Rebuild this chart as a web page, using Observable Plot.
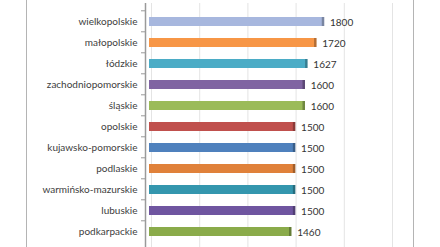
<!DOCTYPE html>
<html><head><meta charset="utf-8">
<script src="https://cdn.jsdelivr.net/npm/d3@7"></script>
<script src="https://cdn.jsdelivr.net/npm/@observablehq/plot@0.6"></script>
<style>
body{margin:0;background:#fff;overflow:hidden;}
#wrap{position:relative;width:440px;height:247px;overflow:hidden;}
#frame{position:absolute;left:26px;top:0;width:386px;height:247px;border-left:1.5px solid #b4b4b4;border-right:1.5px solid #b4b4b4;}
#chart{position:absolute;left:0;top:0;}
</style></head>
<body><div id="wrap"><div id="frame"></div><div id="chart"></div></div>
<script>
const regions = ["wielkopolskie","małopolskie","łódzkie","zachodniopomorskie","śląskie","opolskie","kujawsko-pomorskie","podlaskie","warmińsko-mazurskie","lubuskie","podkarpackie"];
const values = [1800,1720,1627,1600,1600,1500,1500,1500,1500,1500,1460];
const colors = ["#a7b7de","#f79646","#4bacc6","#8064a2","#9bbb59","#c0504d","#4f81bd","#e0813a","#3496ae","#6f55a0","#8aab4a"];
const gridTicks = [0,500,1000,1500,2000,2500];

const data = regions.map((r,i)=>({name:r, value:values[i], color:colors[i], edge:d3.color(colors[i]).darker(0.9).formatHex()}));

const chart = Plot.plot({
  width: 440, height: 250,
  marginLeft: 151, marginRight: 48, marginTop: 3, marginBottom: 0,
  style: {fontFamily: "Lato, sans-serif", fontSize: "10px", color: "#333"},
  x: {domain: [0, 2500], axis: null},
  y: {domain: regions, padding: 0.55, axis: null, label: null},
  marks: [
    Plot.ruleX(gridTicks, {stroke: "#e4e4e4", strokeWidth: 1}),
    Plot.axisY({tickSize: 0, tickPadding: 14, label: null, fontSize: 10, fill: "#404040"}),
    Plot.axisY({anchor: "left", tickSize: 4, tickFormat: () => "", label: null, dx: -6, dy: -11.2, stroke: "#999"}),
    Plot.barX(data, {x: "value", y: "name", fill: "color", dx: -2}),
    Plot.tickX(data, {x: "value", y: "name", stroke: "edge", strokeWidth: 2.5, dx: -2}),
    Plot.text(data, {x: "value", y: "name", text: d => String(d.value), textAnchor: "start", dx: 5, dy: 1, fill: "#333", fontSize: 10}),
    Plot.ruleX([0], {stroke: "#9a9a9a", strokeWidth: 1.5, dx: -6})
  ]
});
document.getElementById("chart").append(chart);
</script></body></html>
